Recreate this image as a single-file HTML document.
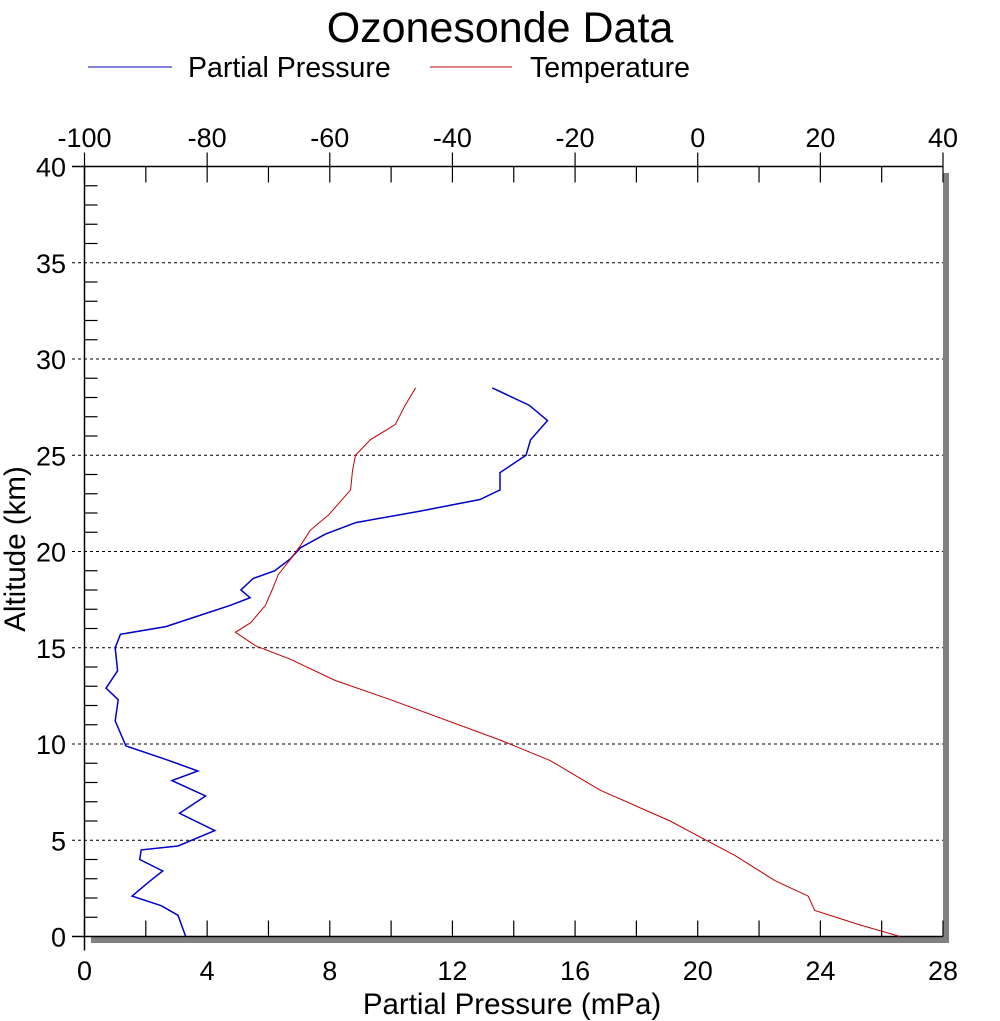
<!DOCTYPE html>
<html><head><meta charset="utf-8"><style>
body{margin:0;background:#fff;}
svg{display:block;font-family:"Liberation Sans",sans-serif;}
</style></head><body>
<svg id="chart" width="1000" height="1021" viewBox="0 0 1000 1021">
<text x="500" y="42" font-size="43" text-anchor="middle">Ozonesonde Data</text>
<g>
<g><line x1="88" y1="67" x2="172" y2="67" stroke="#0000c0" stroke-width="1"/><text x="188" y="77" font-size="28.5">Partial Pressure</text></g>
<g><line x1="430" y1="67" x2="512" y2="67" stroke="#c00000" stroke-width="1"/><text x="530" y="77" font-size="28.5">Temperature</text></g>
</g>
<rect x="943" y="173" width="6" height="769" fill="#808080"/>
<rect x="91" y="937" width="858" height="6" fill="#808080"/>
<g id="grid"></g><g id="axes"></g><g id="series"></g>
<text x="512" y="1014" font-size="29.5" text-anchor="middle">Partial Pressure (mPa)</text>
<text transform="translate(25,549) rotate(-90)" font-size="29.5" text-anchor="middle">Altitude (km)</text>
</svg>
<script>
const pressureAlt=[0,1.1,1.6,2.1,2.9,3.4,4.0,4.5,4.7,5.5,6.4,7.3,8.1,8.6,9.2,9.9,11.2,12.3,12.9,13.8,15,15.7,16.1,16.7,17.2,17.6,18.0,18.6,19.0,19.6,20.2,20.9,21.5,22.1,22.7,23.2,24.1,25.0,25.8,26.8,27.6,28.5];
const pressureVals=[3.3,3.05,2.5,1.55,2.15,2.55,1.8,1.85,3.05,4.25,3.1,3.95,2.85,3.7,2.65,1.35,1.0,1.1,0.7,1.08,1.0,1.17,2.65,3.8,4.75,5.4,5.1,5.5,6.2,6.7,7.05,7.85,8.85,10.95,12.9,13.55,13.55,14.4,14.55,15.1,14.5,13.3];
const tempAlt=[0,0.6,1.35,2.1,2.9,4.2,5.25,6.0,7.6,9.15,10.2,12.3,13.3,14.4,15.1,15.8,16.3,17.2,18.0,18.8,19.6,20.3,21.1,21.9,23.2,24.2,25.0,25.8,26.6,27.6,28.5];
const tempVals=[33,26.5,19.1,18,12.6,6.1,-0.1,-4.5,-15.9,-24.1,-32.2,-50.1,-59.1,-66.4,-72.1,-75.4,-72.9,-70.5,-69.4,-68.4,-66.4,-64.8,-63.2,-60.2,-56.6,-56.3,-55.8,-53.4,-49.3,-47.7,-46];
const bottomTicks=[0,4,8,12,16,20,24,28];
const topTicks=[-100,-80,-60,-40,-20,0,20,40];
const altTicks=[0,5,10,15,20,25,30,35,40];
const L=84.5,R=943,T=166.5,B=936.5;
const xP=v=>L+(v-0)/28*(R-L);
const xT=v=>L+(v+100)/140*(R-L);
const yA=v=>B-v/40*(B-T);
const NS="http://www.w3.org/2000/svg";
function mk(tag,attrs,parent){const e=document.createElementNS(NS,tag);for(const k in attrs)e.setAttribute(k,attrs[k]);document.getElementById(parent).appendChild(e);return e;}
altTicks.forEach(a=>{if(a===0||a===40)return;
const g=mk('line',{x1:72,x2:R,y1:yA(a),y2:yA(a),stroke:'#000','stroke-width':1,'stroke-dasharray':'3,3'},'grid');

});
let e=mk('line',{x1:L,x2:L,y1:T,y2:B+14,stroke:'#000','stroke-width':1.5},'axes');


e=mk('line',{x1:72,x2:R,y1:B,y2:B,stroke:'#000','stroke-width':1.5},'axes');


e=mk('line',{x1:72,x2:R,y1:T,y2:T,stroke:'#000','stroke-width':1.5},'axes');


for(let v=0;v<=28;v+=2){const x=xP(v);mk('line',{x1:x,x2:x,y1:B,y2:B-16,stroke:'#000','stroke-width':1.2},'axes');}
bottomTicks.forEach(v=>{const x=xP(v);const t=mk('text',{x:x,y:980,'font-size':27,'text-anchor':'middle'},'axes');t.textContent=v;

});
for(let v=-100;v<=40;v+=10){const x=xT(v);mk('line',{x1:x,x2:x,y1:T,y2:T+16,stroke:'#000','stroke-width':1.2},'axes');}
topTicks.forEach(v=>{const x=xT(v);mk('line',{x1:x,x2:x,y1:T-14,y2:T,stroke:'#000','stroke-width':1.2},'axes');
const t=mk('text',{x:x,y:147,'font-size':27,'text-anchor':'middle'},'axes');t.textContent=v;

});
for(let v=1;v<40;v++){if(v%5===0)continue;const y=yA(v);mk('line',{x1:L,x2:L+13,y1:y,y2:y,stroke:'#000','stroke-width':1.2},'axes');}
altTicks.forEach(v=>{const y=yA(v);const t=mk('text',{x:66,y:y+10,'font-size':27,'text-anchor':'end'},'axes');t.textContent=v;

});
const pp=pressureVals.map((v,i)=>xP(v).toFixed(1)+','+yA(pressureAlt[i]).toFixed(1)).join(' ');
const p1=mk('polyline',{points:pp,fill:'none',stroke:'#0000c8','stroke-width':1.5},'series');


const tp=tempVals.map((v,i)=>xT(v).toFixed(1)+','+yA(tempAlt[i]).toFixed(1)).join(' ');
const p2=mk('polyline',{points:tp,fill:'none',stroke:'#c00000','stroke-width':1},'series');


</script>
</body></html>
